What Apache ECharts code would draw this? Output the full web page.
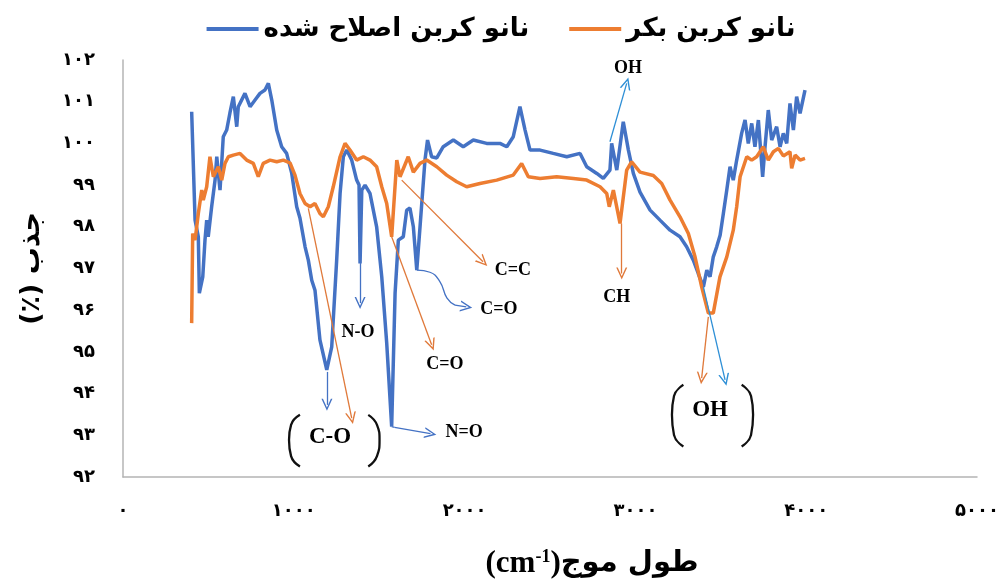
<!DOCTYPE html>
<html><head><meta charset="utf-8">
<script src="https://cdn.jsdelivr.net/npm/echarts@6/dist/echarts.min.js"></script>
<style>html,body{margin:0;padding:0;background:#fff}#c{width:1002px;height:585px}</style>
</head><body><div id="c"></div>
<script>
// ---- data ----
const seriesNames = ['نانو کربن اصلاح شده', 'نانو کربن بکر'];
const blueX = [402,422,441,447,467,480,490,499,519,539,549,568,578,587,607,626,646,666,675,714,744,773,802,831,851,871,900,929,958,988,1017,1036,1066,1085,1105,1124,1153,1193,1222,1251,1271,1290,1310,1339,1368,1382,1388,1398,1417,1446,1485,1515,1544,1573,1593,1612,1641,1661,1680,1700,1720,1739,1768,1783,1807,1837,1875,1934,1992,2051,2129,2207,2247,2285,2324,2354,2383,2442,2519,2598,2676,2715,2774,2812,2851,2861,2891,2929,2959,2988,3027,3086,3144,3203,3261,3300,3339,3368,3398,3418,3437,3456,3476,3496,3515,3535,3554,3573,3593,3622,3642,3661,3681,3700,3720,3745,3759,3778,3798,3827,3847,3866,3886,3905,3925,3944,3964,3993];
const blueY = [100.76,98.16,97.76,96.41,96.80,97.68,98.16,97.76,98.48,99.12,99.68,98.88,99.53,100.16,100.32,100.73,101.12,100.40,100.88,101.20,100.88,101.04,101.20,101.28,101.44,101.04,100.32,99.92,99.76,99.28,98.48,98.21,97.52,97.20,96.72,96.48,95.29,94.57,95.12,97.20,98.80,99.68,99.84,99.60,99.12,99.00,97.12,98.88,99.00,98.80,98.00,96.80,95.21,93.21,96.41,97.68,97.76,98.40,98.45,98.00,96.96,98.00,99.60,100.08,99.68,99.65,99.92,100.08,99.92,100.08,100.00,100.00,99.92,100.16,100.88,100.32,99.84,99.84,99.76,99.68,99.76,99.44,99.28,99.16,99.36,100.00,99.36,100.52,99.84,99.28,98.83,98.40,98.16,97.92,97.76,97.52,97.20,96.88,96.56,96.96,96.80,97.28,97.52,97.80,98.32,98.88,99.44,99.12,99.60,100.24,100.56,100.00,100.48,99.92,100.56,99.20,99.92,100.80,100.08,100.40,99.92,100.24,100.00,100.96,100.32,101.12,100.72,101.28];
const orangeX = [402,408,422,441,461,470,490,509,529,558,578,597,617,646,685,724,763,792,821,861,900,939,978,1007,1036,1066,1095,1124,1153,1173,1202,1231,1271,1300,1329,1368,1407,1446,1485,1515,1544,1573,1603,1622,1670,1700,1739,1778,1837,1895,1954,2012,2090,2188,2285,2334,2373,2442,2539,2637,2715,2793,2832,2847,2871,2910,2949,2978,3027,3105,3154,3203,3261,3310,3349,3388,3427,3456,3495,3535,3573,3593,3613,3652,3681,3710,3749,3778,3808,3837,3866,3905,3915,3935,3964,3993];
const orangeY = [95.69,97.84,97.68,98.32,98.88,98.64,98.96,99.68,99.20,99.44,99.12,99.52,99.68,99.72,99.76,99.60,99.52,99.20,99.52,99.60,99.56,99.60,99.53,99.24,98.80,98.56,98.48,98.56,98.32,98.24,98.48,98.96,99.68,100.00,99.84,99.60,99.68,99.60,99.44,98.96,98.56,97.76,99.60,99.20,99.68,99.31,99.52,99.60,99.44,99.24,99.08,98.96,99.04,99.12,99.24,99.52,99.20,99.16,99.20,99.16,99.12,98.96,98.80,98.48,98.88,98.08,99.36,99.56,99.31,99.23,99.04,98.64,98.24,97.84,97.28,96.56,95.93,95.93,96.80,97.28,97.92,98.48,99.20,99.68,99.60,99.68,99.92,99.60,99.80,99.88,99.70,99.80,99.40,99.72,99.60,99.64];
const xTickLabels = ['۰','۱۰۰۰','۲۰۰۰','۳۰۰۰','۴۰۰۰','۵۰۰۰'];
const yTickLabels = ['۹۲','۹۳','۹۴','۹۵','۹۶','۹۷','۹۸','۹۹','۱۰۰','۱۰۱','۱۰۲'];
const xAxisTitleFa = 'طول موج';
const yAxisTitle = '(٪) جذب';

// ---- annotations (data coordinates) ----
const blueArrows = [[[1194,94.52],[1194,93.73]], [[1388,97.13],[1388,96.17]], [[1573,93.21],[1590,93.19],[1800,93.04]]];
const blueCurvePath = [[1720,96.96],[1797,96.91],[1856,96.68],[1897,96.29],[1944,96.12]];
const blueCurveHead = [[1944,96.12],[2010,96.08]];
const lightBlueArrows = [[[2851,100.04],[2949,101.44]], [[3398,96.56],[3525,94.33]]];
const orangeArrows = [[[1085,98.44],[1339,93.41]], [[1573,97.76],[1807,95.17]], [[1632,99.12],[2108,97.16]], [[2920,98.08],[2920,96.88]], [[3427,95.84],[3388,94.37]]];
const smallLabels = [['N-O',1376,95.48],['C=O',1885,94.71],['C=C',2283,96.96],['C=O',2200,96.03],['N=O',1997,93.06],['OH',2957,101.81],['CH',2891,96.32]];
const groupLabels = [['C-O',1212,92.96],['OH',3437,93.61]];
const bracketPaths = [
  [[1036,93.49],[984,93.25],[972,92.89],[984,92.50],[1036,92.25]],
  [[1436,93.49],[1487,93.25],[1502,92.89],[1487,92.50],[1436,92.25]],
  [[3281,94.21],[3226,93.94],[3214,93.49],[3226,93.01],[3281,92.73]],
  [[3622,94.21],[3677,93.94],[3689,93.49],[3677,93.01],[3622,92.73]]
];

// ---- build ----
const zip = (xs, ys) => xs.map((x, i) => [x, ys[i]]);
const arrowPath = 'path://M5,0 L10,10 L8.6,10 L5,2.8 L1.4,10 L0,10 Z';
const serifBold = {fontFamily: 'Liberation Serif', fontWeight: 'bold', color: '#000'};

function seg(a, b, color, width) {
  return [{coord: a, lineStyle: {color: color, width: width, type: 'solid'}}, {coord: b}];
}
const blueLines = [];
blueArrows.forEach(p => {
  if (p.length === 2) blueLines.push(seg(p[0], p[1], '#4472C4', 1.3));
  else {
    const s1 = seg(p[0], p[1], '#4472C4', 1.3); s1[1].symbol = 'none'; blueLines.push(s1);
    blueLines.push(seg(p[1], p[2], '#4472C4', 1.3));
  }
});
blueLines.push(seg(blueCurveHead[0], blueCurveHead[1], '#4472C4', 1.3));
lightBlueArrows.forEach(p => blueLines.push(seg(p[0], p[1], '#2E8FD6', 1.3)));
const orangeLines = orangeArrows.map(p => seg(p[0], p[1], '#E0793A', 1.3));

const labelPoints = smallLabels.map(l => ({name: l[0], coord: [l[1], l[2]], label: Object.assign({fontSize: 18}, serifBold)}))
  .concat(groupLabels.map(l => ({name: l[0], coord: [l[1], l[2]], label: Object.assign({fontSize: 23}, serifBold)})));

const annotationSeries = bracketPaths.map((p, i) => ({
  name: 'bracket' + i, type: 'line', data: p, smooth: true, showSymbol: false, symbol: 'none', silent: true,
  lineStyle: {color: '#111', width: 2.3}, z: 5
}));
annotationSeries.push({
  name: 'curveArrow', type: 'line', data: blueCurvePath, smooth: true, showSymbol: false, symbol: 'none', silent: true,
  lineStyle: {color: '#4472C4', width: 1.3}, z: 5
});

const chart = echarts.init(document.getElementById('c'), null, {renderer: 'canvas'});
chart.setOption({
  animation: false,
  backgroundColor: '#fff',
  legend: {
    top: 11, left: 'center', icon: 'rect', itemWidth: 52, itemHeight: 4, itemGap: 40,
    data: seriesNames,
    textStyle: {fontFamily: 'DejaVu Sans', fontWeight: 'bold', fontSize: 26, color: '#000'}
  },
  grid: {left: 123, right: 25, top: 60, bottom: 108},
  xAxis: {
    type: 'value', min: 0, max: 5000, interval: 1000,
    axisLine: {show: true, lineStyle: {color: '#B4B4B4', width: 1.5}},
    axisTick: {show: false}, splitLine: {show: false},
    axisLabel: {margin: 25, fontSize: 18, fontWeight: 'bold', fontFamily: 'DejaVu Sans', color: '#000',
      formatter: v => xTickLabels[Math.round(v / 1000)]},
    name: '{a|(cm}{s|-1}{a|)}{b|' + xAxisTitleFa + '}',
    nameLocation: 'middle', nameGap: 71,
    nameTextStyle: {padding: [0, 0, 0, 84], rich: {
      a: {fontFamily: 'Liberation Serif', fontWeight: 'bold', fontSize: 31, color: '#000'},
      s: {fontFamily: 'Liberation Serif', fontWeight: 'bold', fontSize: 18, color: '#000', verticalAlign: 'top', padding: [0, 0, 12, 0]},
      b: {fontFamily: 'DejaVu Sans', fontWeight: 'bold', fontSize: 29, color: '#000'}
    }}
  },
  yAxis: {
    type: 'value', min: 92, max: 102, interval: 1,
    axisLine: {show: true, lineStyle: {color: '#B4B4B4', width: 1.5}},
    axisTick: {show: false}, splitLine: {show: false},
    axisLabel: {margin: 28, fontSize: 18, fontWeight: 'bold', fontFamily: 'DejaVu Sans', color: '#000',
      formatter: v => yTickLabels[Math.round(v - 92)]},
    name: yAxisTitle, nameLocation: 'middle', nameGap: 78, nameRotate: 90,
    nameTextStyle: {fontFamily: 'DejaVu Sans', fontWeight: 'bold', fontSize: 27, color: '#000'}
  },
  series: [
    {
      name: seriesNames[0], type: 'line', data: zip(blueX, blueY), showSymbol: false, symbol: 'none',
      lineStyle: {color: '#4472C4', width: 3.5}, itemStyle: {color: '#4472C4'},
      markLine: {silent: true, symbol: ['none', arrowPath], symbolSize: [11, 12], label: {show: false}, data: blueLines}
    },
    {
      name: seriesNames[1], type: 'line', data: zip(orangeX, orangeY), showSymbol: false, symbol: 'none',
      lineStyle: {color: '#ED7D31', width: 3.5}, itemStyle: {color: '#ED7D31'},
      markLine: {silent: true, symbol: ['none', arrowPath], symbolSize: [11, 12], label: {show: false}, data: orangeLines},
      markPoint: {silent: true, symbol: 'circle', symbolSize: 0, itemStyle: {color: 'transparent'},
        label: {show: true, position: 'inside', formatter: '{b}'}, data: labelPoints}
    }
  ].concat(annotationSeries)
});
</script></body></html>
